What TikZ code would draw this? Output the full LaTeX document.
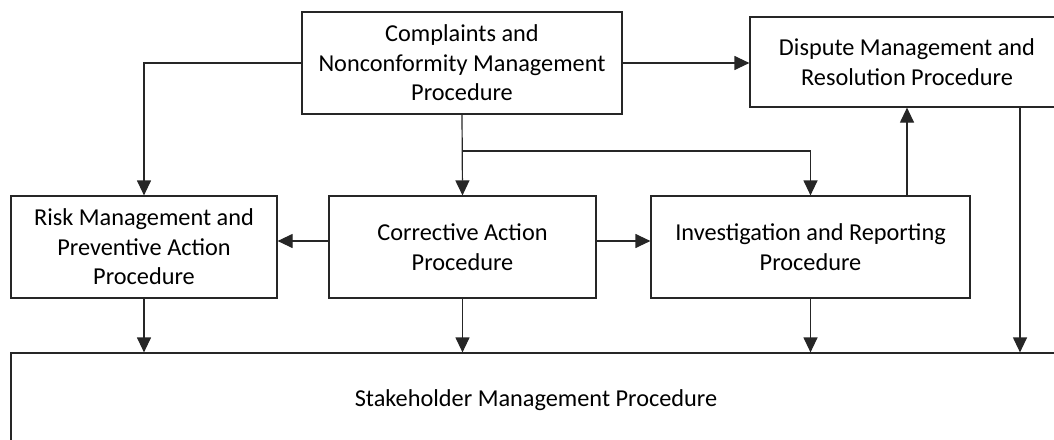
\documentclass[tikz,border=0pt]{standalone}
\usepackage{fontspec}
\setmainfont{Carlito}
\usetikzlibrary{arrows.meta}
\begin{document}
\begin{tikzpicture}[x=1pt,y=-1pt,
  box/.style={draw=black!85,line width=1.2pt,inner sep=0pt,align=center,
    font=\fontsize{24.3}{29.5}\selectfont},
  link/.style={draw=black!85,line width=1.2pt},
  arr/.style={link,-{Triangle[length=15pt,width=14pt]}}]
\useasboundingbox (0,0) rectangle (1054,439);
\clip (0,0) rectangle (1054,439);
% procedure boxes
\node[box,minimum width=320pt,minimum height=102pt] (C) at (462,63)
  {Complaints and\\Nonconformity Management\\Procedure};
\node[box,minimum width=314pt,minimum height=90pt] (D) at (907,62)
  {Dispute Management and\\Resolution Procedure};
\node[box,minimum width=266pt,minimum height=102pt] (R) at (144,247)
  {Risk Management and\\Preventive Action\\Procedure};
\node[box,minimum width=267pt,minimum height=102pt] (A) at (462.5,247)
  {Corrective Action\\Procedure};
\node[box,minimum width=319pt,minimum height=102pt] (I) at (810.5,247)
  {Investigation and Reporting\\Procedure};
\node[box,minimum width=1050pt,minimum height=94pt] (S) at (536,400)
  {Stakeholder Management Procedure};
% flow from the complaints procedure
\draw[arr] (C.west) -| (R.north);
\draw[arr] (C.east) -- (C.east -| D.west);
\draw[arr] (C.south) -- (A.north);
\coordinate (br) at (462,151);
\draw[arr] (br) -| (I.north);
% corrective action outputs
\draw[arr] ([yshift=6pt]A.west) -- ([yshift=6pt]R.east);
\draw[arr] ([yshift=6pt]A.east) -- ([yshift=6pt]I.west);
% escalation to dispute management
\draw[arr] (I.north -| D.south) -- (D.south);
% everything feeds stakeholder management
\draw[arr] (R.south) -- (R.south |- S.north);
\draw[arr] (A.south) -- (A.south |- S.north);
\draw[arr] (I.south) -- (I.south |- S.north);
\draw[arr] ([xshift=113pt]D.south) -- ([xshift=113pt]D.south |- S.north);
\end{tikzpicture}
\end{document}
